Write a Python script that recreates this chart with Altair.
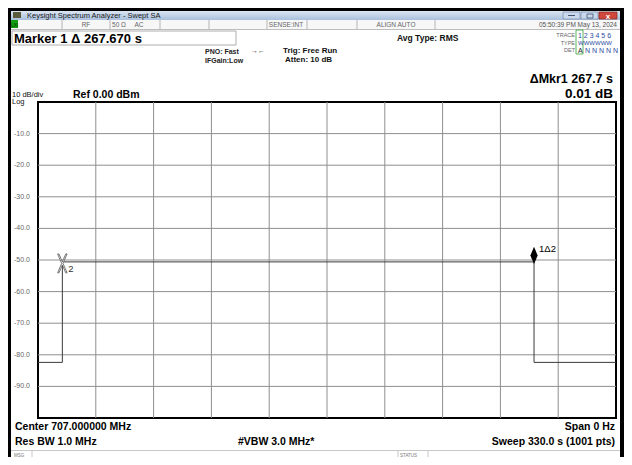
import altair as alt
import pandas as pd

# ---------------- data ----------------
trace_t = [0, 13.9, 13.9, 283.2, 283.2, 330]          # s
trace_lvl = [-82.4, -82.4, -50.6, -50.6, -82.4, -82.4]  # dBm
mk1_t, mk1_lvl, mk1_label = [283.2], [-50.6], ["1Δ2"]
mk2_t, mk2_lvl, mk2_label = [13.9], [-50.6], ["2"]
y_ticks = [-10, -20, -30, -40, -50, -60, -70, -80, -90]
y_tick_labels = ["-10.0", "-20.0", "-30.0", "-40.0", "-50.0", "-60.0", "-70.0", "-80.0", "-90.0"]
x_ticks = [33, 66, 99, 132, 165, 198, 231, 264, 297]

status_texts = ["RF", "50 Ω", "AC", "SENSE:INT", "ALIGN AUTO"]
date_text = "05:50:39 PM May 13, 2024"
window_title = "Keysight Spectrum Analyzer - Swept SA"

# plot area in page coords
PX0, PY0, W, H = 38, 102, 578, 316
FONT = "Liberation Sans"
ONE = [{"a": 1}]


def txt(s, X, Y, size=8, weight="normal", align="left", color="#000"):
    return alt.Chart(alt.Data(values=[{"s": s}])).mark_text(
        align=align, baseline="alphabetic", fontSize=size, fontWeight=weight,
        color=color, font=FONT
    ).encode(x=alt.value(X - PX0), y=alt.value(Y - PY0), text="s:N")


def box(X1, Y1, X2, Y2, fill, stroke=None, sw=0):
    kw = dict(fill=fill, strokeWidth=sw)
    if stroke:
        kw["stroke"] = stroke
    return alt.Chart(alt.Data(values=ONE)).mark_rect(**kw).encode(
        x=alt.value(X1 - PX0), x2=alt.value(X2 - PX0),
        y=alt.value(Y1 - PY0), y2=alt.value(Y2 - PY0))


def vline(X, Y1, Y2, color="#bbb", w=1):
    return alt.Chart(alt.Data(values=ONE)).mark_rule(color=color, strokeWidth=w).encode(
        x=alt.value(X - PX0), y=alt.value(Y1 - PY0), y2=alt.value(Y2 - PY0))


def hline(Y, X1, X2, color="#bbb", w=1):
    return alt.Chart(alt.Data(values=ONE)).mark_rule(color=color, strokeWidth=w).encode(
        y=alt.value(Y - PY0), x=alt.value(X1 - PX0), x2=alt.value(X2 - PX0))


layers = []

# window frame
layers.append(box(8, 8, 624, 11, "#000"))
layers.append(box(8, 8, 11, 460, "#000"))
layers.append(box(620, 8, 624, 460, "#000"))
# title bar
layers.append(alt.Chart(alt.Data(values=ONE)).mark_rect(
    fill=alt.Gradient(gradient="linear", x1=0, y1=0, x2=0, y2=1,
                      stops=[alt.GradientStop(color="#dbe6f3", offset=0),
                             alt.GradientStop(color="#a8bfdc", offset=1)])
).encode(x=alt.value(11 - PX0), x2=alt.value(620 - PX0),
         y=alt.value(11 - PY0), y2=alt.value(20 - PY0)))
layers.append(box(13, 12, 21, 18, "#5b5a3c"))
layers.append(txt(window_title, 27, 18, size=7.5, color="#1a1a1a"))
layers.append(box(563, 12, 580, 19, "#c9d8ec", "#7d93b3", 0.8))
layers.append(box(581, 12, 598, 19, "#c9d8ec", "#7d93b3", 0.8))
layers.append(box(599, 12, 617, 19, "#d0483b", "#8a3028", 0.8))
layers.append(hline(15.5, 568, 575, "#44556e", 1))
layers.append(box(587, 14, 593, 18, "none", "#44556e", 0.8))
layers.append(txt("x", 608, 18.5, size=8, weight="bold", align="center", color="#fff"))

# status row
layers.append(box(11, 20, 620, 29, "#f7f7f7"))
layers.append(box(11, 20, 18, 28, "#12a012"))
layers.append(txt("LXI", 14.5, 26.5, size=4.5, align="center", color="#003300"))
for X in [62, 110, 160, 209, 267, 307, 357, 435]:
    layers.append(vline(X, 20, 29, "#b5b5b5"))
for s, X in zip(status_texts, [86, 119, 139, 286, 396]):
    layers.append(txt(s, X, 27, size=6.5, align="center", color="#666"))
layers.append(txt(date_text, 617, 27, size=6.5, align="right", color="#555"))
layers.append(hline(29.5, 11, 620, "#bdbdbd"))

# marker box and header annotations
layers.append(box(12, 31, 236, 45, "#fff", "#999", 0.8))
layers.append(txt("Marker 1 Δ 267.670 s", 14, 43, size=13, weight="bold"))
layers.append(txt("PNO: Fast", 205, 53.5, size=7, weight="bold", color="#222"))
layers.append(txt("IFGain:Low", 205, 63, size=7, weight="bold", color="#222"))
layers.append(txt("→←", 258, 53, size=7, align="center", color="#333"))
layers.append(txt("Trig: Free Run", 283, 52.5, size=8, weight="bold", color="#111"))
layers.append(txt("Atten: 10 dB", 285, 62, size=8, weight="bold", color="#111"))
layers.append(txt("Avg Type: RMS", 397, 41, size=8.5, weight="bold", color="#111"))

# trace table
layers.append(txt("TRACE", 575, 37, size=5.5, align="right", color="#666"))
layers.append(txt("TYPE", 575, 44.5, size=5.5, align="right", color="#666"))
layers.append(txt("DET", 575, 52, size=5.5, align="right", color="#666"))
layers.append(box(576, 30, 583, 54, "none", "#35a035", 0.8))
layers.append(txt("1 2 3 4 5 6", 578, 37.5, size=7, color="#2a4ba0"))
layers.append(txt("WWWWWW", 578, 45, size=6, color="#2a4ba0"))
layers.append(txt("A", 578, 52.5, size=7, color="#222"))
layers.append(txt("N N N N N", 585, 52.5, size=7, color="#2a4ba0"))

layers.append(txt("ΔMkr1 267.7 s", 613, 83, size=12.5, weight="bold", align="right"))
layers.append(txt("0.01 dB", 613, 98, size=13.5, weight="bold", align="right"))
layers.append(txt("10 dB/div", 12, 96.5, size=7.5, color="#111"))
layers.append(txt("Log", 12, 104, size=7.5, color="#111"))
layers.append(txt("Ref 0.00 dBm", 73, 97.5, size=10.5, weight="bold"))

# footer
layers.append(txt("Center 707.000000 MHz", 15, 429.5, size=10.5, weight="bold"))
layers.append(txt("Res BW 1.0 MHz", 15, 444.5, size=10.5, weight="bold"))
layers.append(txt("#VBW 3.0 MHz*", 238, 444.5, size=10.5, weight="bold"))
layers.append(txt("Span 0 Hz", 615, 429.5, size=10.5, weight="bold", align="right"))
layers.append(txt("Sweep  330.0 s (1001 pts)", 615, 444.5, size=10.5, weight="bold", align="right"))
layers.append(hline(450.5, 11, 620, "#c8c8c8"))
layers.append(vline(32, 451, 460, "#c8c8c8"))
layers.append(vline(398, 451, 460, "#c8c8c8"))
layers.append(vline(428, 451, 460, "#c8c8c8"))
layers.append(txt("MSG", 14, 456.5, size=4.5, color="#777"))
layers.append(txt("STATUS", 400, 456.5, size=4.5, color="#777"))

# ---------------- grid, trace and markers ----------------
xs = alt.Scale(domain=[0, 330], nice=False, zero=False)
ys = alt.Scale(domain=[-100, 0], nice=False, zero=False)
XE = alt.X("t:Q", scale=xs, axis=None)
YE = alt.Y("lvl:Q", scale=ys, axis=None)

gy = pd.DataFrame({"lvl": y_ticks, "s": y_tick_labels})
gx = pd.DataFrame({"t": x_ticks})
grid_y = alt.Chart(gy).mark_rule(color="#8f8f8f", strokeWidth=1).encode(
    y=YE, x=alt.value(0), x2=alt.value(W))
grid_x = alt.Chart(gx).mark_rule(color="#8f8f8f", strokeWidth=1).encode(
    x=XE, y=alt.value(0), y2=alt.value(H))
ylabels = alt.Chart(gy).mark_text(align="right", baseline="middle", dx=-8, fontSize=7,
                                  font=FONT, color="#666").encode(
    x=alt.value(0), y=YE, text="s:N")

df = pd.DataFrame({"t": trace_t, "lvl": trace_lvl, "i": range(len(trace_t))})
trace = alt.Chart(df).mark_line(color="#3a3a3a", strokeWidth=1).encode(
    x=XE, y=YE, order="i:Q")

m1 = pd.DataFrame({"t": mk1_t, "lvl": mk1_lvl, "s": mk1_label})
m2 = pd.DataFrame({"t": mk2_t, "lvl": mk2_lvl, "s": mk2_label})

diamond = "M0,-1L0.42,0L0,1L-0.42,0Z"
xshape = ("M-0.5,-1L-0.36,-1L0,-0.163L0.36,-1L0.5,-1L0.07,0L0.5,1L0.36,1"
          "L0,0.163L-0.36,1L-0.5,1L-0.07,0Z")

mk1_pt = alt.Chart(m1).mark_point(shape=diamond, filled=True, color="#000", size=300,
                                  opacity=1, yOffset=-6.5).encode(x=XE, y=YE)
mk1_tx = alt.Chart(m1).mark_text(align="left", baseline="alphabetic", dx=5, dy=-10,
                                 fontSize=9.5, font=FONT, color="#000").encode(
    x=XE, y=YE, text="s:N")
mk2_pt = alt.Chart(m2).mark_point(shape=xshape, filled=True, fill="#fff", stroke="#555",
                                  strokeWidth=0.8, size=360, opacity=1, yOffset=1.5).encode(
    x=XE, y=YE)
mk2_tx = alt.Chart(m2).mark_text(align="left", baseline="alphabetic", dx=6, dy=10,
                                 fontSize=9.5, font=FONT, color="#333").encode(
    x=XE, y=YE, text="s:N")

chart = alt.layer(grid_y, grid_x, ylabels, trace, mk1_pt, mk1_tx, mk2_pt, mk2_tx,
                  *layers).properties(
    width=W, height=H,
    autosize=alt.AutoSizeParams(type="none"),
    padding={"left": PX0 - 8, "top": PY0 - 8, "right": 616 - (PX0 - 8) - W,
             "bottom": 449 - (PY0 - 8) - H},
    background="#ffffff",
).configure_view(stroke="#000", strokeWidth=2)

chart.save("out.html", embed_options={"renderer": "svg", "actions": False})
